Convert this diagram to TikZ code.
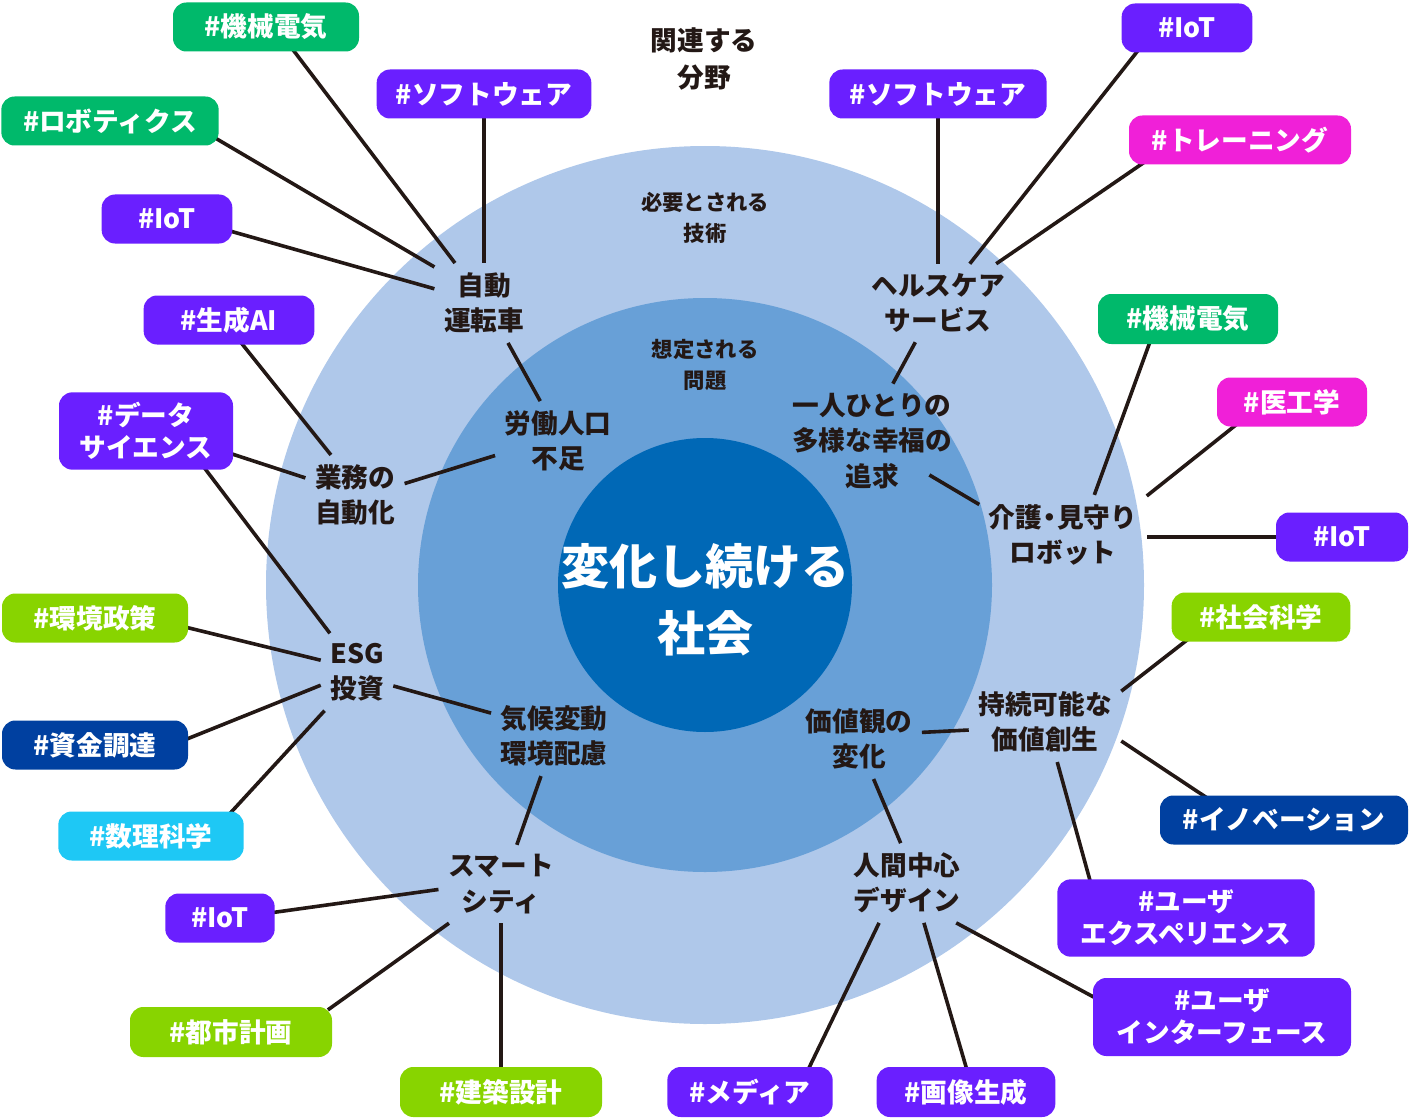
\documentclass[tikz,border=0pt]{standalone}
\usepackage{fontspec}
\setmainfont{Noto Sans CJK JP}
\usepackage{tikz}
\usetikzlibrary{backgrounds}

\definecolor{ink}{RGB}{35,24,21}
\definecolor{ringout}{RGB}{175,200,234}
\definecolor{ringmid}{RGB}{104,160,215}
\definecolor{ringin}{RGB}{0,104,182}
\definecolor{tgreen}{RGB}{0,185,107}
\definecolor{tpurple}{RGB}{106,31,255}
\definecolor{tpink}{RGB}{240,32,216}
\definecolor{tlime}{RGB}{136,212,0}
\definecolor{tnavy}{RGB}{0,64,160}
\definecolor{tcyan}{RGB}{30,200,245}

\tikzset{
  hashtag/.style={fill=#1, rounded corners=10pt, text=white, align=center,
    font=\bfseries\fontsize{20}{24}\selectfont, minimum height=36.75pt, inner sep=0pt},
  topic/.style={text=ink, align=center, inner sep=7pt,
    font=\bfseries\fontsize{20}{26.5}\selectfont},
  caption/.style={text=ink, align=center, font=\bfseries\fontsize{16}{23.5}\selectfont},
  link/.style={draw=ink, line width=2.7pt},
  taglink/.style={link, shorten <=-4pt}
}

\begin{document}
\begin{tikzpicture}[x=0.75pt,y=0.75pt,yscale=-1,xscale=1]

\useasboundingbox (0,0) rectangle (1410,1120);

\node[topic, font=\bfseries\fontsize{20}{27.5}\selectfont] (field) at (704,59) {関連する\\分野};

\node[caption] (tech) at (705,218) {必要とされる\\技術};

\node[caption] (issue) at (705,365) {想定される\\問題};

\node[text=white, align=center, inner sep=0pt, font=\bfseries\fontsize{36}{50}\selectfont] (society) at (705,600) {変化し続ける\\社会};


\node[topic] (auto) at (484,303) {自動\\運転車};

\node[topic] (health) at (938,303) {ヘルスケア\\サービス};

\node[topic] (labor) at (558,441) {労働人口\\不足};

\node[topic] (happy) at (872,441) {一人ひとりの\\多様な幸福の\\追求};

\node[topic] (work) at (355,495) {業務の\\自動化};

\node[topic] (care) at (1063,535) {介護\kern-0.22em・\kern-0.22em 見守り\\ロボット};

\node[topic] (esg) at (357,672) {ESG\\投資};

\node[topic] (climate) at (554,736) {気候変動\\環境配慮};

\node[topic] (value) at (859,739) {価値観の\\変化};

\node[topic] (sustain) at (1045,722) {持続可能な\\価値創生};

\node[topic] (smart) at (501,884) {スマート\\シティ};

\node[topic] (human) at (907,883) {人間中心\\デザイン};


\node[hashtag=tgreen, minimum width=139.5pt] (mechA) at (266,27) {\#機械電気};

\node[hashtag=tpurple, minimum width=161pt] (softA) at (484,94) {\#ソフトウェア};

\node[hashtag=tgreen, minimum width=163pt] (robo) at (110,121) {\#ロボティクス};

\node[hashtag=tpurple, minimum width=98pt] (iotA) at (167,219) {\#IoT};

\node[hashtag=tpurple, minimum width=128pt] (genai) at (229,320) {\#生成AI};

\node[hashtag=tpurple, minimum width=130.5pt, minimum height=58pt] (datasci) at (146,431) {\#データ\\サイエンス};

\node[hashtag=tlime, minimum width=139.5pt] (envpol) at (95,618) {\#環境政策};

\node[hashtag=tnavy, minimum width=139.5pt] (fund) at (95,745) {\#資金調達};

\node[hashtag=tcyan, minimum width=139pt] (math) at (151,836) {\#数理科学};

\node[hashtag=tpurple, minimum width=82pt] (iotB) at (220,918) {\#IoT};

\node[hashtag=tlime, minimum width=151.5pt, minimum height=37.5pt] (city) at (231,1032) {\#都市計画};

\node[hashtag=tlime, minimum width=151.5pt, minimum height=37.5pt] (arch) at (501,1092) {\#建築設計};

\node[hashtag=tpurple, minimum width=124pt, minimum height=37.5pt] (media) at (750,1092) {\#メディア};

\node[hashtag=tpurple, minimum width=134pt, minimum height=37.5pt] (imggen) at (966,1092) {\#画像生成};

\node[hashtag=tpurple, minimum width=193.5pt, minimum height=58.5pt] (ui) at (1222,1017) {\#ユーザ\\インターフェース};

\node[hashtag=tpurple, minimum width=193pt, minimum height=58pt] (ux) at (1186,918) {\#ユーザ\\エクスペリエンス};

\node[hashtag=tnavy, minimum width=186pt] (innov) at (1284,820) {\#イノベーション};

\node[hashtag=tlime, minimum width=134pt] (social) at (1261,617) {\#社会科学};

\node[hashtag=tpurple, minimum width=99pt] (iotC) at (1342,537) {\#IoT};

\node[hashtag=tpink, minimum width=112.5pt] (medeng) at (1292,402) {\#医工学};

\node[hashtag=tgreen, minimum width=135pt, minimum height=37.5pt] (mechB) at (1188,319) {\#機械電気};

\node[hashtag=tpink, minimum width=166.5pt] (train) at (1240,140) {\#トレーニング};

\node[hashtag=tpurple, minimum width=98pt] (iotD) at (1187,28) {\#IoT};

\node[hashtag=tpurple, minimum width=163pt] (softB) at (938,94) {\#ソフトウェア};


\begin{scope}[on background layer]

\fill[ringout] (705,585) circle (439);

\fill[ringmid] (705,585) circle (287);

\fill[ringin] (705,585) circle (147);


\draw[taglink] (mechA.-41) -- (auto.126);

\draw[taglink] (softA.south) -- (auto.north);

\draw[taglink] (robo.-10) -- (auto.144);

\draw[taglink] (iotA.-11) -- (auto.164);

\draw[link] (auto.-59) -- (labor.114);

\draw[taglink] (genai.-61) -- (work.121);

\draw[taglink] (datasci.-15) -- (work.161);

\draw[link] (work.13) -- (labor.193);

\draw[taglink] (datasci.-33) -- (esg.125);

\draw[taglink] (envpol.-6) -- (esg.162);

\draw[taglink] (fund.4) -- (esg.-160);

\draw[taglink] (math.17) -- (esg.-130);

\draw[link] (esg.-21) -- (climate.160);

\draw[link] (climate.-108) -- (smart.68);

\draw[taglink] (iotB.6) -- (smart.-175);

\draw[taglink] (city.14) -- (smart.-143);

\draw[taglink] (arch.north) -- (smart.south);

\draw[taglink] (softB.south) -- (health.north);

\draw[taglink] (iotD.-154) -- (health.51);

\draw[taglink] (train.-166) -- (health.34);

\draw[link] (health.-120) -- (happy.70);

\draw[link, shorten >=50pt] (care.160) -- (happy.center);

\draw[taglink] (mechB.-147) -- (care.52);

\draw[taglink] (medeng.-157) -- (care.25);

\draw[taglink] (iotC.west) -- (iotC.west -| care.east);

\draw[taglink] (social.-162) -- (sustain.22);

\draw[link] (sustain.-174) -- (value.6);

\draw[taglink] (innov.163) -- (sustain.-14);

\draw[taglink] (ux.158) -- (sustain.-73);

\draw[link] (value.-70) -- (human.99);

\draw[taglink] (media.23) -- (human.-125);

\draw[taglink] (imggen.north) -- (human.-67);

\draw[taglink] (ui.171) -- (human.-39);

\end{scope}

\end{tikzpicture}
\end{document}
